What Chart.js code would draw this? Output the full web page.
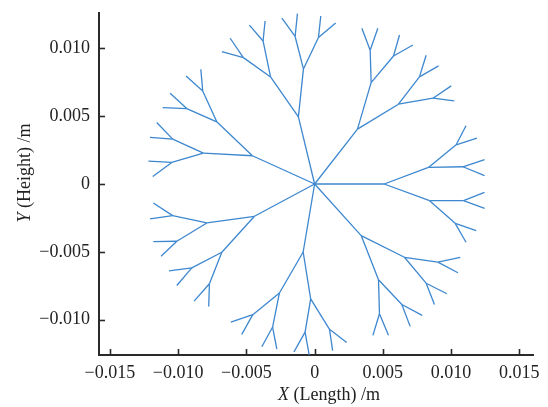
<!DOCTYPE html>
<html>
<head>
<meta charset="utf-8">
<script src="https://cdn.jsdelivr.net/npm/chart.js@4.4.1/dist/chart.umd.min.js"></script>
<style>
  html, body { margin: 0; padding: 0; background: #fff; }
  #wrap { width: 548px; height: 407px; }
</style>
</head>
<body>
<div id="wrap"><canvas id="dendrite" width="548" height="407"></canvas></div>
<script>
// dendrite coordinates in mm, 7 arms growing out of the origin
// each arm: trunk end -> 2 forks -> 4 twigs -> 8 tips
const trunkEnds = [
  [-4.56, 2.08], [-1.19, 4.95], [3.14, 4.04], [5.10, 0.00],
  [3.41, -3.80], [-0.84, -5.01], [-4.41, -2.38]
];
const forkNodes = [
  [[-8.15, 2.28], [-7.17, 4.58]],
  [[-3.23, 7.89], [-0.82, 8.48]],
  [[4.14, 7.47], [6.14, 5.88]],
  [[8.34, 1.22], [8.42, -1.23]],
  [[6.58, -5.40], [4.68, -7.06]],
  [[-0.29, -8.46], [-2.58, -8.03]],
  [[-7.90, -2.87], [-6.80, -5.03]]
];
const twigNodes = [
  [[-10.47, 1.59], [-10.40, 3.31], [-9.37, 5.56], [-8.20, 6.86]],
  [[-5.22, 9.31], [-3.78, 10.54], [-1.43, 10.87], [0.28, 10.79]],
  [[4.07, 9.85], [5.78, 9.43], [7.68, 7.89], [8.67, 6.32]],
  [[10.37, 2.89], [10.87, 1.27], [10.91, -1.23], [10.30, -2.90]],
  [[9.03, -5.76], [8.17, -7.31], [6.39, -8.88], [4.75, -9.56]],
  [[1.09, -10.71], [-0.70, -10.91], [-3.08, -10.54], [-4.53, -9.63]],
  [[-10.40, -2.33], [-10.10, -4.22], [-9.00, -6.18], [-7.71, -7.35]]
];
const tipNodes = [
  [[-12.18, 1.69], [-11.86, 0.56], [-12.06, 3.43], [-11.57, 4.53],
   [-11.13, 5.63], [-10.59, 6.69], [-9.42, 7.96], [-8.34, 8.46]],
  [[-6.80, 9.75], [-6.19, 10.74], [-4.78, 11.71], [-3.63, 12.01],
   [-2.40, 12.23], [-1.26, 12.55], [0.45, 12.38], [1.54, 11.86]],
  [[3.46, 11.47], [4.63, 11.47], [6.22, 10.98], [7.20, 10.24],
   [8.17, 9.49], [9.08, 8.70], [10.01, 7.23], [10.23, 6.13]],
  [[11.09, 4.29], [11.89, 3.38], [12.45, 1.79], [12.45, 0.61],
   [12.45, -0.62], [12.45, -1.79], [11.84, -3.43], [11.09, -4.29]],
  [[10.67, -5.40], [10.50, -6.54], [9.69, -8.09], [8.78, -8.88],
   [7.88, -9.68], [7.00, -10.49], [5.41, -11.15], [4.27, -11.15]],
  [[2.35, -11.68], [1.32, -12.28], [-1.52, -12.38], [-0.40, -12.59],
   [-3.87, -11.99], [-2.77, -12.16], [-6.14, -10.18], [-5.34, -11.08]],
  [[-11.82, -1.40], [-12.06, -2.57], [-11.82, -4.24], [-11.25, -5.32],
   [-10.67, -6.40], [-10.10, -7.48], [-8.83, -8.63], [-7.76, -9.02]]
];
const xTicks = [-0.015, -0.010, -0.005, 0, 0.005, 0.010, 0.015];
const yTicks = [-0.010, -0.005, 0, 0.005, 0.010];

const MM = 0.001;
const lineColor = "#3d87cf";
const axisColor = "#2a2a2a";
const serif = "'Liberation Serif', 'Times New Roman', serif";

function pt(p) { return {x: p[0] * MM, y: p[1] * MM}; }

// one dataset per segment, parent -> child
const datasets = [];
function segment(a, b) {
  datasets.push({
    data: [pt(a), pt(b)],
    showLine: true,
    borderColor: lineColor,
    borderWidth: 1.3,
    pointRadius: 0,
    fill: false
  });
}
trunkEnds.forEach((trunk, arm) => {
  segment([0, 0], trunk);
  forkNodes[arm].forEach(f => segment(trunk, f));
  twigNodes[arm].forEach((t, i) => segment(forkNodes[arm][i >> 1], t));
  tipNodes[arm].forEach((t, i) => segment(twigNodes[arm][i >> 1], t));
});

function fmtTick(v) {
  if (Math.abs(v) < 1e-12) return "0";
  return (v < 0 ? "\u2212" : "") + Math.abs(v).toFixed(3);
}

// let layout.padding alone decide where the plot box sits
function noLabelPadding(s) {
  s.paddingTop = 0; s.paddingBottom = 0;
  s.paddingLeft = 0; s.paddingRight = 0;
}

// inward tick marks + axis titles (italic variable name)
const axisDecor = {
  id: "axisDecor",
  afterDraw(chart) {
    const {ctx, chartArea: a, scales} = chart;
    ctx.save();
    ctx.strokeStyle = axisColor;
    ctx.lineWidth = 1.6;
    scales.x.ticks.forEach(t => {
      const px = Math.round(scales.x.getPixelForValue(t.value)) + 0.5;
      ctx.beginPath(); ctx.moveTo(px, a.bottom); ctx.lineTo(px, a.bottom - 6); ctx.stroke();
    });
    scales.y.ticks.forEach(t => {
      const py = Math.round(scales.y.getPixelForValue(t.value)) + 0.5;
      ctx.beginPath(); ctx.moveTo(a.left, py); ctx.lineTo(a.left + 6, py); ctx.stroke();
    });

    ctx.fillStyle = "#222";
    ctx.textBaseline = "middle";
    ctx.textAlign = "left";
    const drawTitle = (v, rest, cx, cy, rot) => {
      ctx.save();
      ctx.translate(cx, cy);
      ctx.rotate(rot);
      ctx.font = "italic 18px " + serif;
      const w1 = ctx.measureText(v).width;
      ctx.font = "18px " + serif;
      const w2 = ctx.measureText(rest).width;
      let x0 = -(w1 + w2) / 2;
      ctx.font = "italic 18px " + serif;
      ctx.fillText(v, x0, 0);
      ctx.font = "18px " + serif;
      ctx.fillText(rest, x0 + w1, 0);
      ctx.restore();
    };
    drawTitle("X", " (Length) /m", 329, 395, 0);
    drawTitle("Y", " (Height) /m", 25, 173, -Math.PI / 2);
    ctx.restore();
  }
};

new Chart(document.getElementById("dendrite"), {
  type: "scatter",
  data: {datasets},
  options: {
    responsive: false,
    animation: false,
    layout: {padding: {left: 0, right: 15, top: 13, bottom: 0}},
    plugins: {legend: {display: false}, tooltip: {enabled: false}},
    scales: {
      x: {
        type: "linear",
        min: -0.0158,
        max: 0.016,
        afterBuildTicks: s => { s.ticks = xTicks.map(v => ({value: v})); },
        afterFit: s => { s.height = 52; noLabelPadding(s); },
        grid: {display: false, drawTicks: false},
        border: {display: true, color: axisColor, width: 2},
        ticks: {
          padding: 7,
          color: "#222",
          font: {family: serif, size: 18},
          maxRotation: 0,
          autoSkip: false,
          callback: v => fmtTick(v)
        }
      },
      y: {
        type: "linear",
        min: -0.0126,
        max: 0.0126,
        afterBuildTicks: s => { s.ticks = yTicks.map(v => ({value: v})); },
        afterFit: s => { s.width = 99; noLabelPadding(s); },
        grid: {display: false, drawTicks: false},
        border: {display: true, color: axisColor, width: 2},
        ticks: {
          padding: 9,
          color: "#222",
          font: {family: serif, size: 18},
          autoSkip: false,
          callback: v => fmtTick(v)
        }
      }
    }
  },
  plugins: [axisDecor]
});
</script>
</body>
</html>
